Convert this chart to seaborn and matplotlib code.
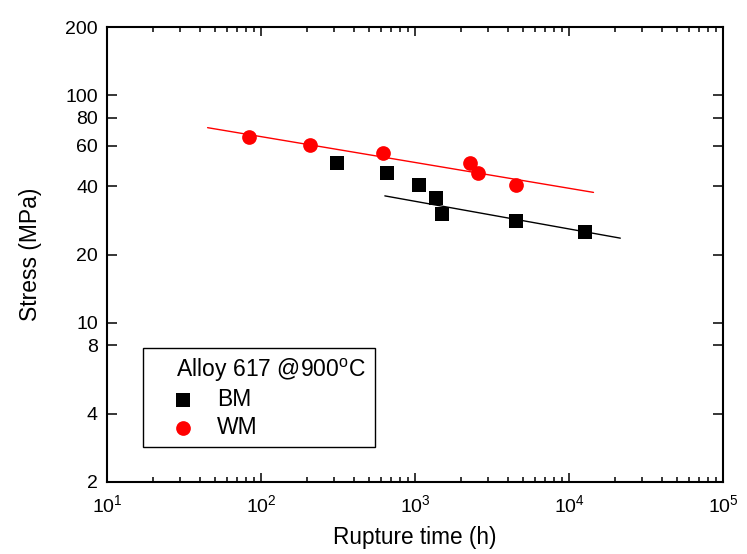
import numpy as np
import pandas as pd
import matplotlib
matplotlib.use('Agg')
import matplotlib.pyplot as plt
import seaborn as sns
from matplotlib.ticker import LogLocator, FixedLocator, NullLocator, FixedFormatter, NullFormatter

# ---- data ----
bm_time = [312, 656, 1057, 1365, 1503, 4560, 12620]
bm_stress = [50.3, 45.5, 40.4, 35.3, 30.1, 28.2, 25.2]
wm_time = [83, 207, 618, 2290, 2553, 4560]
wm_stress = [65.9, 60.6, 55.7, 50.7, 45.5, 40.4]
bm_fit_time = [637, 21540]
bm_fit_stress = [36.2, 23.6]
wm_fit_time = [45, 14420]
wm_fit_stress = [72.2, 37.5]
y_ticks = [2, 4, 8, 10, 20, 40, 60, 80, 100, 200]
y_ticklabels = ['2', '4', '8', '10', '20', '40', '60', '80', '100', '200']
x_ticks = [1e1, 1e2, 1e3, 1e4, 1e5]
x_ticklabels = ['$10^{1}$', '$10^{2}$', '$10^{3}$', '$10^{4}$', '$10^{5}$']

sns.set_theme(style='ticks')
plt.rcParams['font.family'] = ['Liberation Sans', 'DejaVu Sans']
plt.rcParams['mathtext.fontset'] = 'custom'
plt.rcParams['mathtext.rm'] = 'Liberation Sans'
plt.rcParams['mathtext.it'] = 'Liberation Sans'
plt.rcParams['mathtext.bf'] = 'Liberation Sans'
for key in ['text.color', 'axes.labelcolor', 'xtick.color', 'ytick.color',
            'xtick.labelcolor', 'ytick.labelcolor', 'axes.edgecolor']:
    plt.rcParams[key] = 'black'

bm = pd.DataFrame({'time': bm_time, 'stress': bm_stress})
wm = pd.DataFrame({'time': wm_time, 'stress': wm_stress})
fit_bm = pd.DataFrame({'time': bm_fit_time, 'stress': bm_fit_stress})
fit_wm = pd.DataFrame({'time': wm_fit_time, 'stress': wm_fit_stress})

fig = plt.figure(figsize=(7.47, 5.54), dpi=100)
ax = fig.add_axes([107/747, 1-482/554, 616/747, 455/554])

sns.lineplot(data=fit_wm, x='time', y='stress', color='red', lw=1.0, ax=ax, legend=False)
sns.lineplot(data=fit_bm, x='time', y='stress', color='black', lw=1.0, ax=ax, legend=False)
sns.scatterplot(data=bm, x='time', y='stress', marker='s', color='black', s=92,
                linewidth=0, ax=ax, zorder=3, label='BM')
sns.scatterplot(data=wm, x='time', y='stress', marker='o', color='red', s=112,
                linewidth=0, ax=ax, zorder=3, label='WM')

ax.set_xscale('log')
ax.set_yscale('log')
ax.set_xlim(10, 1e5)
ax.set_ylim(2, 200)

ax.xaxis.set_major_locator(FixedLocator(x_ticks))
ax.xaxis.set_major_formatter(FixedFormatter(x_ticklabels))
ax.xaxis.set_minor_locator(LogLocator(base=10, subs=np.arange(2, 10), numticks=20))
ax.xaxis.set_minor_formatter(NullFormatter())
ax.yaxis.set_major_locator(FixedLocator(y_ticks))
ax.yaxis.set_major_formatter(FixedFormatter(y_ticklabels))
ax.yaxis.set_minor_locator(NullLocator())

ax.tick_params(which='both', direction='in', top=True, right=True, colors='black',
               labelcolor='black', labelsize=14, width=1.1)
ax.tick_params(axis='x', which='major', length=6.8, pad=8.5)
ax.tick_params(axis='x', which='minor', length=3.8)
ax.tick_params(axis='y', which='major', length=7.5, pad=6.5)
for s in ax.spines.values():
    s.set_linewidth(1.5)
    s.set_color('black')

ax.set_xlabel('Rupture time (h)', fontsize=16.3, color='black')
ax.set_ylabel('Stress (MPa)', fontsize=16.5, color='black')
ax.xaxis.set_label_coords(0.5, -0.097)
ax.yaxis.set_label_coords(-0.105, 0.5)

handles, labels = ax.get_legend_handles_labels()
leg = ax.legend(handles, labels, title='    Alloy 617 @900$^{\\mathrm{o}}$C ',
                loc='lower left', bbox_to_anchor=(0.059, 0.0776),
                fontsize=16.5, title_fontsize=16.5, frameon=True, fancybox=False,
                edgecolor='black', framealpha=1, alignment='left',
                handlelength=2.8, handletextpad=0.05, labelspacing=0.2,
                borderpad=0.35, borderaxespad=0, labelcolor='black')
leg.get_title().set_color('black')
leg.get_frame().set_linewidth(1.0)

fig.savefig('out.png', dpi=100)
